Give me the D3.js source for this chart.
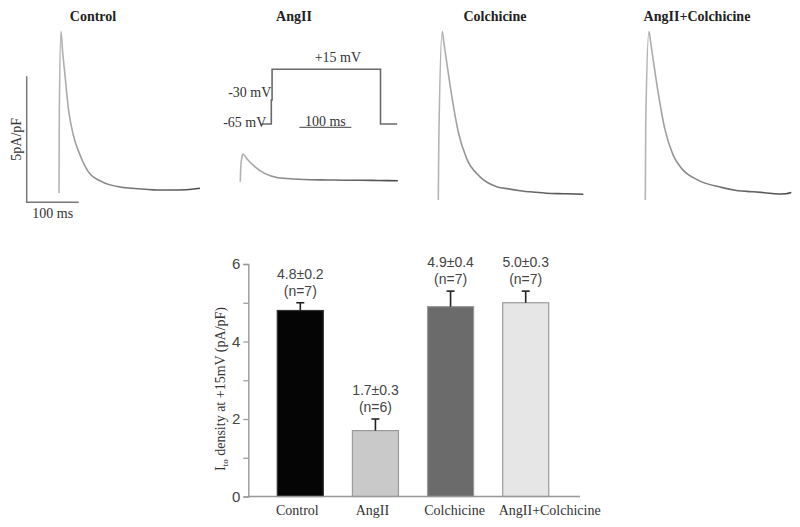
<!DOCTYPE html>
<html><head><meta charset="utf-8">
<script src="https://cdn.jsdelivr.net/npm/d3@7"></script>
<style>body{margin:0;background:#fff}svg{display:block}</style>
</head><body>
<script>
// ---------- DATA ----------
const panelTitles = ["Control", "AngII", "Colchicine", "AngII+Colchicine"];
// current traces: [time ms, current pA/pF]
const traceControl = [[0,0],[0.6,3.2],[3.8,6.41],[7,5.6],[11.5,4.68],[17.9,3.37],[27.5,2.30],[40.4,1.51],[56.3,0.85],[82.1,0.45],[120.6,0.23],[140,0.19],[165,0.15],[190,0.12],[216.7,0.12],[245,0.13],[271,0.19]];
const traceAngII = [[0,0],[0.8,0.53],[2.7,0.93],[5.2,1.10],[9,1.02],[14.8,0.86],[27.7,0.60],[46.9,0.33],[72.5,0.16],[104.6,0.11],[135,0.08],[168.7,0.07],[200,0.06],[232,0.06],[265,0.05],[303,0.04]];
const traceColchicine = [[0,0],[1,2.4],[7.7,6.68],[11,6.2],[16.0,5.49],[25.6,4.16],[38.3,2.71],[54.4,1.65],[80.2,0.92],[112.3,0.53],[135,0.44],[157.1,0.37],[185,0.31],[208.3,0.27],[240,0.25],[278.8,0.23]];
const traceAngIIColch = [[0,0],[0.8,3.0],[7.1,6.68],[10,6.3],[14.8,5.62],[24.4,4.30],[37.3,2.84],[53.3,1.79],[69.4,1.26],[101.3,0.79],[146.2,0.50],[178.3,0.37],[205,0.33],[229.6,0.29],[255.2,0.24],[270,0.25],[280.8,0.30]];
// voltage protocol: [time ms, mV]
const protocol = [[-18,-65],[0,-65],[0,-30],[1.5,-30],[1.5,15],[210,15],[210,-65],[242,-65]];
const protocolLabels = ["+15 mV", "-30 mV", "-65 mV"];
// scale bars
const scaleTime = 100;     // ms
const scaleCurrent = 5;    // pA/pF

// bar chart
const categories = ["Control", "AngII", "Colchicine", "AngII+Colchicine"];
const means = [4.8, 1.7, 4.9, 5.0];
const sems = [0.2, 0.3, 0.4, 0.3];
const ns = [7, 6, 7, 7];
const barColors = ["#050505", "#c9c9c9", "#6b6b6b", "#e6e6e6"];
const yTicks = [0, 1, 2, 3, 4, 5, 6];

// ---------- DRAW ----------
const W = 800, H = 527;
const svg = d3.select("body").append("svg").attr("width", W).attr("height", H);
svg.append("rect").attr("width", W).attr("height", H).attr("fill", "#fff");

const defs = svg.append("defs");
const grad = defs.append("linearGradient").attr("id", "tg").attr("x1", "0%").attr("x2", "100%").attr("y1", "0%").attr("y2", "0%");
grad.append("stop").attr("offset", "0%").attr("stop-color", "#b4b4b4");
grad.append("stop").attr("offset", "25%").attr("stop-color", "#8c8c8c");
grad.append("stop").attr("offset", "100%").attr("stop-color", "#4a4a4a");

const serif = "'Liberation Serif','Times New Roman',serif";
const sans = "'Liberation Sans',Arial,sans-serif";

// trace scales (relative to each panel origin)
const tx = d3.scaleLinear().domain([0, 100]).range([0, 52]);
const ty = d3.scaleLinear().domain([0, 5]).range([0, -126]);
const line = d3.line().x(d => tx(d[0])).y(d => ty(d[1])).curve(d3.curveMonotoneX);

// panel titles
const titleX = [93, 294, 495, 697];
svg.selectAll("text.title").data(panelTitles).join("text")
  .attr("class", "title")
  .attr("x", (d, i) => titleX[i]).attr("y", 21)
  .attr("text-anchor", "middle")
  .attr("font-family", serif).attr("font-weight", "bold").attr("font-size", 14)
  .attr("fill", "#222").text(d => d);

const traces = [traceControl, traceAngII, traceColchicine, traceAngIIColch];
const origins = [[59, 193], [240.3, 181.7], [438.3, 200], [645.3, 200]];
traces.forEach((tr, i) => {
  const g = svg.append("g").attr("transform", `translate(${origins[i][0]},${origins[i][1]})`);
  g.append("path").datum(tr).attr("d", line)
    .attr("fill", "none").attr("stroke", "url(#tg)").attr("stroke-width", 1.6)
    .attr("stroke-linejoin", "round");
});

// scale bar (control panel)
const sb = svg.append("g").attr("transform", "translate(26.7,202.3)");
sb.append("path")
  .attr("d", `M${tx(0)},${ty(scaleCurrent)}L${tx(0)},${ty(0)}L${tx(scaleTime)},${ty(0)}`)
  .attr("fill", "none").attr("stroke", "#777").attr("stroke-width", 1.5);
sb.append("text").attr("transform", `translate(-6,${ty(scaleCurrent / 2)}) rotate(-90)`)
  .attr("text-anchor", "middle").attr("font-family", serif).attr("font-size", 14).attr("fill", "#333")
  .text("5pA/pF");
sb.append("text").attr("x", tx(scaleTime / 2)).attr("y", 16)
  .attr("text-anchor", "middle").attr("font-family", serif).attr("font-size", 14).attr("fill", "#333")
  .text("100 ms");

// voltage protocol
const vy = d3.scaleLinear().domain([-65, 15]).range([0, -54.7]);
const pg = svg.append("g").attr("transform", "translate(271.3,124)");
pg.append("path").datum(protocol)
  .attr("d", d3.line().x(d => tx(d[0])).y(d => vy(d[1])))
  .attr("fill", "none").attr("stroke", "#6a6a6a").attr("stroke-width", 1.6);
pg.append("text").attr("x", tx(128)).attr("y", vy(15) - 7)
  .attr("text-anchor", "middle").attr("font-family", serif).attr("font-size", 14).attr("fill", "#333")
  .text(protocolLabels[0]);
pg.append("text").attr("x", 0).attr("y", vy(-30) - 3)
  .attr("text-anchor", "end").attr("font-family", serif).attr("font-size", 14).attr("fill", "#333")
  .text(protocolLabels[1]);
pg.append("text").attr("x", -5).attr("y", vy(-65) + 3)
  .attr("text-anchor", "end").attr("font-family", serif).attr("font-size", 14).attr("fill", "#333")
  .text(protocolLabels[2]);
pg.append("line").attr("x1", tx(54)).attr("x2", tx(54 + scaleTime)).attr("y1", 3.3).attr("y2", 3.3)
  .attr("stroke", "#666").attr("stroke-width", 1.3);
pg.append("text").attr("x", tx(54 + scaleTime / 2)).attr("y", 1.5)
  .attr("text-anchor", "middle").attr("font-family", serif).attr("font-size", 14).attr("fill", "#333")
  .text("100 ms");

// ---------- BAR CHART ----------
const x = d3.scaleBand().domain(categories).range([263, 563]).paddingInner(0.387).paddingOuter(0.19);
const y = d3.scaleLinear().domain([0, 6]).range([496.5, 264]);

const bars = svg.append("g");
bars.selectAll("rect").data(categories).join("rect")
  .attr("x", d => x(d)).attr("width", x.bandwidth())
  .attr("y", (d, i) => y(means[i])).attr("height", (d, i) => y(0) - y(means[i]))
  .attr("fill", (d, i) => barColors[i])
  .attr("stroke", (d, i) => i === 0 ? "#333" : "#9a9a9a").attr("stroke-width", 1.2);

// error bars
const eb = svg.append("g").attr("stroke", "#222").attr("stroke-width", 1.6);
categories.forEach((c, i) => {
  const cx = x(c) + x.bandwidth() / 2;
  eb.append("line").attr("x1", cx).attr("x2", cx).attr("y1", y(means[i])).attr("y2", y(means[i] + sems[i]));
  eb.append("line").attr("x1", cx - 4).attr("x2", cx + 4).attr("y1", y(means[i] + sems[i])).attr("y2", y(means[i] + sems[i]));
});

// value labels
categories.forEach((c, i) => {
  const cx = x(c) + x.bandwidth() / 2;
  const top = y(means[i] + sems[i]);
  svg.append("text").attr("x", cx).attr("y", top - 24)
    .attr("text-anchor", "middle").attr("font-family", sans).attr("font-size", 14).attr("fill", "#444")
    .text(`${means[i].toFixed(1)}±${sems[i].toFixed(1)}`);
  svg.append("text").attr("x", cx).attr("y", top - 7)
    .attr("text-anchor", "middle").attr("font-family", sans).attr("font-size", 14).attr("fill", "#444")
    .text(`(n=${ns[i]})`);
});

// y axis
const yAxis = d3.axisLeft(y).tickValues(yTicks).tickSize(5).tickPadding(3)
  .tickFormat(d => d % 2 === 0 ? d : "");
const ya = svg.append("g").attr("transform", "translate(248.3,0)").call(yAxis);
ya.select(".domain").attr("stroke", "#999").attr("stroke-width", 1.4);
ya.selectAll(".tick line").attr("stroke", "#999").attr("stroke-width", 1.2);
ya.selectAll(".tick text").attr("font-family", sans).attr("font-size", 15).attr("fill", "#444");

// x baseline
svg.append("line").attr("x1", 248.3).attr("x2", 580).attr("y1", y(0)).attr("y2", y(0))
  .attr("stroke", "#999").attr("stroke-width", 1.4);

// x labels
svg.selectAll("text.cat").data(categories).join("text")
  .attr("class", "cat")
  .attr("x", (d, i) => x(d) + x.bandwidth() / 2 + (i === 3 ? 24 : (i === 2 ? 4 : -3)))
  .attr("y", 515)
  .attr("text-anchor", "middle").attr("font-family", serif).attr("font-size", 14).attr("fill", "#333")
  .text(d => d);

// y label
const yl = svg.append("text").attr("transform", "translate(225,389) rotate(-90)")
  .attr("text-anchor", "middle").attr("font-family", serif).attr("font-size", 14).attr("fill", "#333");
yl.append("tspan").text("I");
yl.append("tspan").attr("font-size", 9).attr("dy", 3).text("to");
yl.append("tspan").attr("dy", -3).text(" density at +15mV (pA/pF)");
</script>
</body></html>
